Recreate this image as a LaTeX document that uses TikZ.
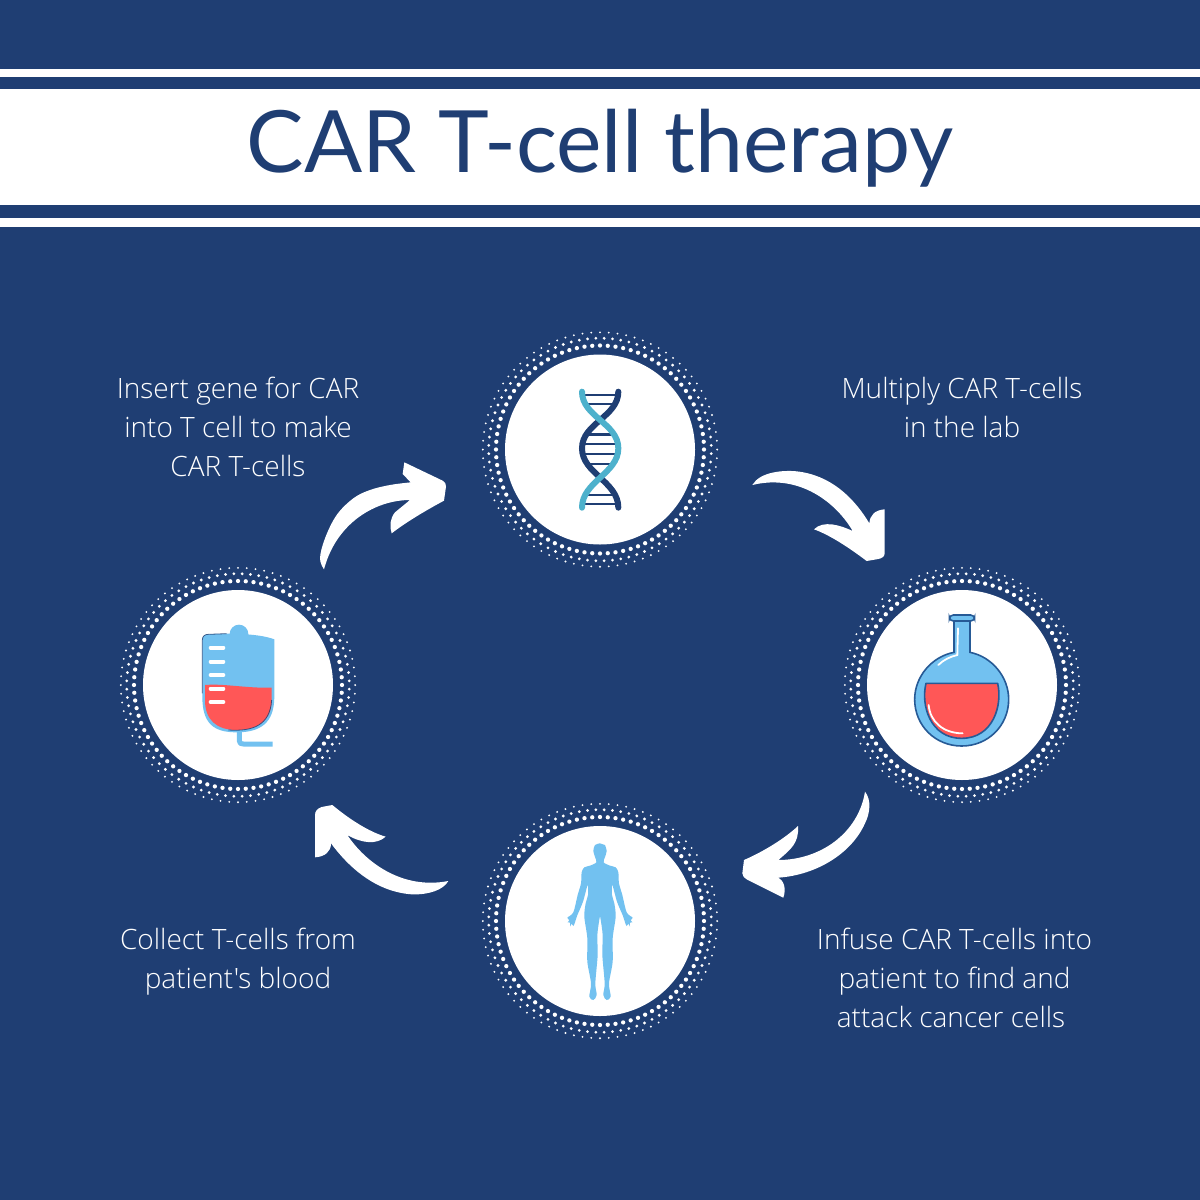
\documentclass[tikz,border=0pt]{standalone}
\usepackage{fontspec}
\setmainfont{Lato}
\newfontfamily\lightf{Open Sans Light}
\definecolor{navy}{HTML}{1F3E73}
\definecolor{teal2}{HTML}{4DB1CC}
\definecolor{sky}{HTML}{72C1F0}
\definecolor{redf}{HTML}{FF5757}
\definecolor{edge}{HTML}{265A96}
\tikzset{
  disc/.style={circle,fill=white,minimum size=190pt,inner sep=0pt},
  lab/.style={text=white,align=center,inner sep=0pt,font=\lightf\fontsize{28}{39}\selectfont},
  arrowshape/.style={fill=white,draw=none},
  rung/.style={draw=navy,line width=2.8pt},
  strand/.style={line width=6pt,line cap=round},
}
\newcommand{\dotring}[1]{%
  \foreach \i in {0,...,83}{
    \fill[white] (#1)++({\i*4.285714}:104pt) circle (2.15pt);
    \fill[white] (#1)++({(\i+.5)*4.285714}:111.3pt) circle (1.55pt);
    \fill[white] (#1)++({\i*4.285714}:117.2pt) circle (1.05pt);
  }}
\begin{document}
\begin{tikzpicture}[x=1pt,y=-1pt]
\fill[navy] (0,0) rectangle (1200,1200);
\useasboundingbox (0,0) rectangle (1200,1200);
\fill[white] (0,69) rectangle (1200,77);
\fill[white] (0,89) rectangle (1200,205);
\fill[white] (0,218) rectangle (1200,227);
\node[text=navy,inner sep=0pt,anchor=base,font=\fontsize{86}{100}\selectfont] (title) at (600,172.7) {CAR T-cell therapy};

\coordinate (pa) at (600,449.5);
\coordinate (pb) at (962,685);
\coordinate (pc) at (600,921);
\coordinate (pd) at (238,685);
\dotring{pa}\dotring{pb}\dotring{pc}\dotring{pd}
\node[disc] (ca) at (pa) {};
\node[disc] (cb) at (pb) {};
\node[disc] (cc) at (pc) {};
\node[disc] (cd) at (pd) {};

% DNA
\begin{scope}[shift={(470,320)},scale=1/3]
\foreach \yy/\xa/\xb in {225/345/438,252/352/428,343/358/422,372/345/435,402/345/435,432/358/422,525/352/428,552/345/438}
  \draw[rung] (\xa,\yy) -- (\xb,\yy);
\draw[strand,navy] (445,215) .. controls (445,290) and (336,310) .. (336,385) .. controls (336,460) and (445,485) .. (445,563);
\draw[strand,teal2] (336,215) .. controls (336,290) and (445,310) .. (445,385) .. controls (445,460) and (336,485) .. (336,563);
\end{scope}

% Blood bag
\begin{scope}[shift={(180,610)},scale=1/3]
\draw[sky,line width=5pt,line join=round] (178,360) -- (178,392) .. controls (178,400) and (182,402) .. (190,402) -- (278,402);
\fill[sky] (177,72) circle (28);
\fill[sky] (85,73) .. controls (130,70) and (230,68) .. (283,88) -- (283,260) .. controls (283,340) and (240,367) .. (170,367) .. controls (100,367) and (67,340) .. (67,260) -- (67,90) .. controls (67,78) and (75,73) .. (85,73) -- cycle;
\fill[redf] (75,225) .. controls (130,220) and (200,235) .. (275,233) -- (275,270) .. controls (275,330) and (235,360) .. (170,360) .. controls (110,360) and (75,330) .. (75,270) -- cycle;
\draw[navy,line width=.8pt,opacity=.8] (67,250) -- (67,90) .. controls (67,78) and (75,73) .. (85,73) -- (140,71);
\draw[navy,line width=.8pt,opacity=.8] (145,360) .. controls (220,365) and (270,345) .. (275,270);
\foreach \yy in {113,155,195,236,276}
  \draw[white,line width=4pt,line cap=round] (92,\yy) -- (130,\yy);
\end{scope}

% Flask
\begin{scope}[shift={(900,605)},scale=1/3]
\filldraw[fill=sky,draw=edge,line width=1.6pt] (162,48) -- (162,142) .. controls (95,155) and (44,215) .. (44,283) .. controls (44,362) and (106,423) .. (185,423) .. controls (264,423) and (326,362) .. (326,283) .. controls (326,215) and (275,155) .. (210,142) -- (210,48) -- cycle;
\filldraw[fill=sky,draw=edge,line width=1.6pt,rounded corners=4] (148,30) rectangle (224,48);
\filldraw[fill=redf,draw=edge,line width=1.6pt,line join=round] (78,235) -- (293,235) .. controls (308,300) and (280,400) .. (185,400) .. controls (90,400) and (62,300) .. (78,235) -- cycle;
\draw[white,line width=1.8pt,line cap=round] (174,70) -- (172,150) .. controls (150,155) and (130,165) .. (115,180);
\draw[white,line width=1.8pt,line cap=round] (86,300) .. controls (90,350) and (130,385) .. (188,385);
\end{scope}

% Body
\begin{scope}[shift={(555,835)},scale=1/3]
\fill[sky] plot[smooth,tension=.5] coordinates {(135,25) (120,30) (115,48) (120,66) (124,82) (105,92) (88,97) (80,112) (78,145) (68,180) (55,232) (37,248) (43,255) (38,262) (45,263) (45,275) (50,266) (55,273) (60,262) (66,243) (84,200) (98,150) (99,180) (92,205) (88,245) (97,310) (97,380) (108,445) (103,485) (115,495) (125,480) (121,445) (128,360) (127,300) (134,248) (136,248) (143,300) (142,360) (149,445) (145,480) (155,495) (167,485) (162,445) (173,380) (173,310) (182,245) (178,205) (171,180) (172,150) (186,200) (204,243) (210,262) (215,273) (220,266) (225,275) (225,263) (232,262) (227,255) (233,248) (215,232) (202,180) (192,145) (190,112) (182,97) (165,92) (146,82) (150,66) (155,48) (150,30)} -- cycle;
\end{scope}

% Arrows
\begin{scope}[shift={(300,450)},scale=1/3]
\fill[arrowshape] plot[smooth,tension=.6] coordinates {(72,358) (60,325) (75,265) (110,195) (160,145) (210,120) (270,105) (332,97)} -- (308,72) -- (313,37) -- (428,92) .. controls (436,97) and (438,102) .. (438,110) -- (432,152) .. controls (380,180) and (320,215) .. (275,250) .. controls (268,230) and (270,205) .. (285,187) -- (330,150) .. controls (230,150) and (110,215) .. (72,358) -- cycle;
\end{scope}
\begin{scope}[shift={(740,460)},scale=1/3]
\fill[arrowshape] (37,75) .. controls (60,35) and (130,30) .. (170,34) .. controls (270,45) and (340,110) .. (388,190) .. controls (390,165) and (405,150) .. (434,148) -- (434,280) .. controls (434,290) and (425,295) .. (415,297) -- (380,303) .. controls (330,265) and (270,225) .. (222,208) .. controls (250,180) and (300,195) .. (338,213) .. controls (290,130) and (180,40) .. (37,75) -- cycle;
\end{scope}
\begin{scope}[shift={(730,780)},scale=1/3]
\fill[arrowshape] (405,35) .. controls (425,60) and (420,100) .. (405,130) .. controls (365,220) and (260,285) .. (145,293) .. controls (160,300) and (170,325) .. (160,353) -- (50,298) .. controls (42,294) and (38,288) .. (37,280) -- (42,240) .. controls (100,215) and (165,175) .. (204,138) .. controls (208,190) and (180,210) .. (145,240) .. controls (270,240) and (385,160) .. (405,35) -- cycle;
\end{scope}
\begin{scope}[shift={(305,795)},scale=1/3]
\fill[arrowshape] (430,258) .. controls (415,285) and (370,300) .. (320,298) .. controls (210,290) and (130,215) .. (78,145) .. controls (78,170) and (60,185) .. (30,187) -- (30,60) .. controls (30,48) and (38,40) .. (50,36) -- (82,30) .. controls (130,70) and (190,110) .. (242,125) .. controls (215,150) and (170,145) .. (127,120) .. controls (180,200) and (290,285) .. (430,258) -- cycle;
\end{scope}

% Labels
\node[lab] (la) at (238,427) {Insert gene for CAR\\into T cell to make\\CAR T-cells};
\node[lab] (lb) at (962,407.5) {Multiply CAR T-cells\\in the lab};
\node[lab] (lc) at (954.5,978) {Infuse CAR T-cells into\\patient to find and\\attack cancer cells\hspace*{7pt}};
\node[lab] (ld) at (238,961.5) {Collect T-cells from\\patient's blood};
\end{tikzpicture}
\end{document}
